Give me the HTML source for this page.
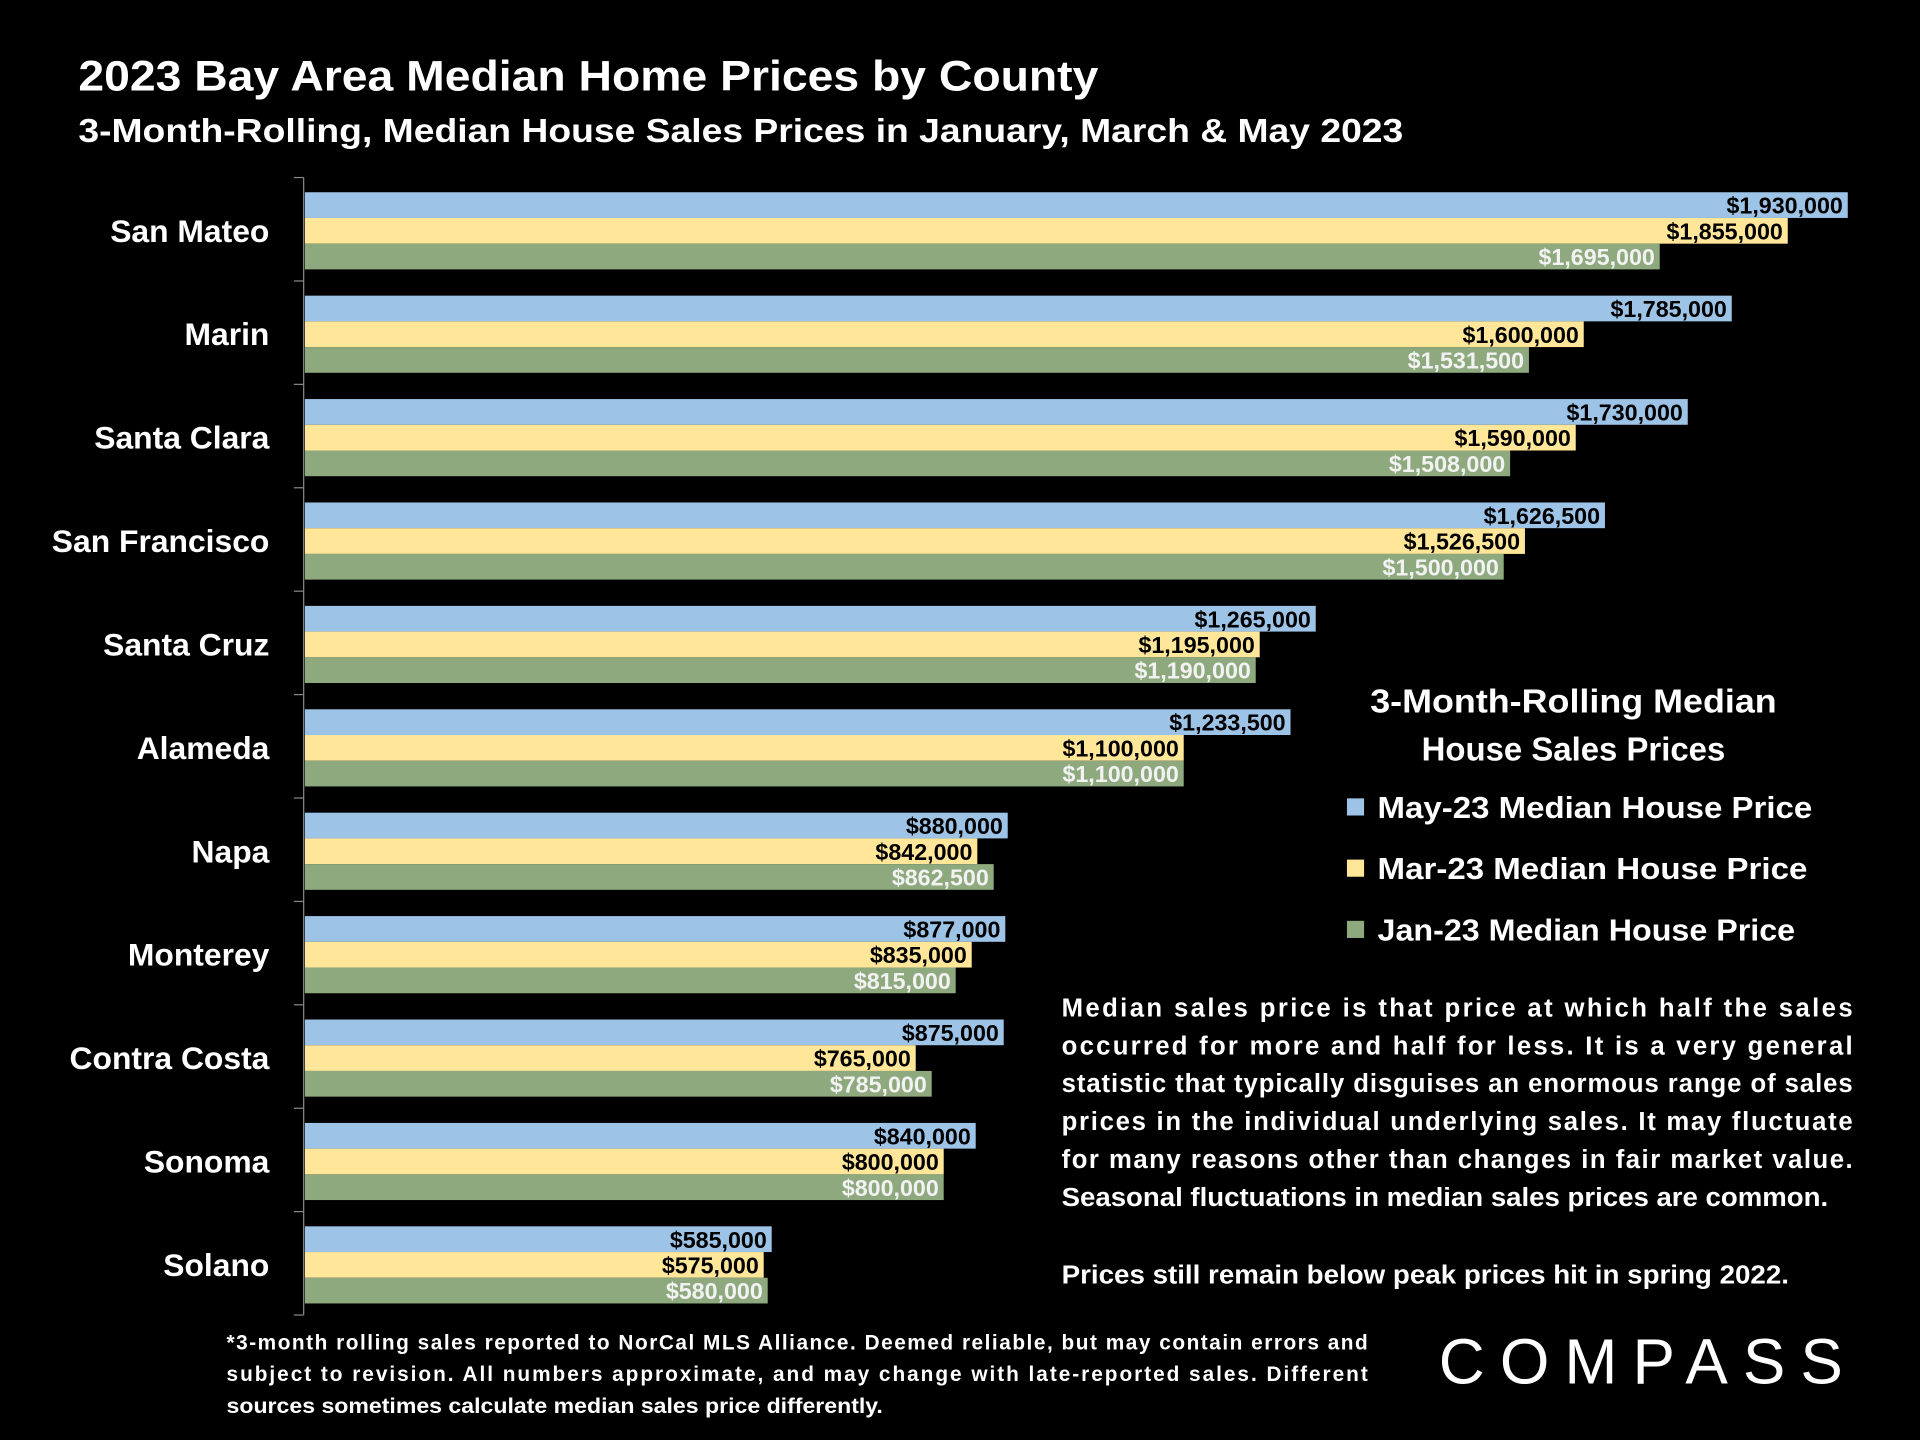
<!DOCTYPE html>
<html><head><meta charset="utf-8"><style>
html,body{margin:0;padding:0;background:#000;}
svg{display:block;}
text{font-family:"Liberation Sans",sans-serif;font-weight:bold;}
</style></head><body>
<svg id="chart" width="1920" height="1440" viewBox="0 0 1568 1176" xmlns="http://www.w3.org/2000/svg">
<rect x="0" y="0" width="1568" height="1176" fill="#000"/>
<text x="64" y="74" font-size="35" fill="#fff" textLength="833" lengthAdjust="spacingAndGlyphs">2023 Bay Area Median Home Prices by County</text>
<text x="64" y="116" font-size="27" fill="#fff" textLength="1082" lengthAdjust="spacingAndGlyphs">3-Month-Rolling, Median House Sales Prices in January, March &amp; May 2023</text>
<g id="plot"></g>
<g>
<text x="1285" y="582" font-size="27" fill="#fff" text-anchor="middle" textLength="332" lengthAdjust="spacingAndGlyphs">3-Month-Rolling Median</text>
<text x="1285" y="621" font-size="27" fill="#fff" text-anchor="middle" textLength="248" lengthAdjust="spacingAndGlyphs">House Sales Prices</text>
<g><rect x="1100" y="652" width="14" height="14" fill="#9DC3E6"/><text x="1125" y="668" font-size="25" fill="#fff" textLength="355" lengthAdjust="spacingAndGlyphs">May-23 Median House Price</text></g>
<g><rect x="1100" y="702" width="14" height="14" fill="#FFE699"/><text x="1125" y="718" font-size="25" fill="#fff" textLength="351" lengthAdjust="spacingAndGlyphs">Mar-23 Median House Price</text></g>
<g><rect x="1100" y="752" width="14" height="14" fill="#8EA97E"/><text x="1125" y="768" font-size="25" fill="#fff" textLength="341" lengthAdjust="spacingAndGlyphs">Jan-23 Median House Price</text></g>
</g>
<g font-size="21" fill="#fff">
<text x="867" y="830" textLength="646" lengthAdjust="spacing">Median sales price is that price at which half the sales</text>
<text x="867" y="861" textLength="646" lengthAdjust="spacing">occurred for more and half for less. It is a very general</text>
<text x="867" y="892" textLength="646" lengthAdjust="spacing">statistic that typically disguises an enormous range of sales</text>
<text x="867" y="923" textLength="646" lengthAdjust="spacing">prices in the individual underlying sales. It may fluctuate</text>
<text x="867" y="954" textLength="646" lengthAdjust="spacing">for many reasons other than changes in fair market value.</text>
<text x="867" y="985" textLength="626" lengthAdjust="spacingAndGlyphs">Seasonal fluctuations in median sales prices are common.</text>
<text x="867" y="1048" textLength="594" lengthAdjust="spacingAndGlyphs">Prices still remain below peak prices hit in spring 2022.</text>
</g>
<g font-size="17" fill="#fff">
<text x="185" y="1102" textLength="932" lengthAdjust="spacing">*3-month rolling sales reported to NorCal MLS Alliance. Deemed reliable, but may contain errors and</text>
<text x="185" y="1128" textLength="932" lengthAdjust="spacing">subject to revision. All numbers approximate, and may change with late-reported sales.  Different</text>
<text x="185" y="1154" textLength="536" lengthAdjust="spacingAndGlyphs">sources sometimes calculate median sales price differently.</text>
</g>
<text x="1175" y="1130" font-size="52" fill="#fff" style="font-weight:normal" textLength="330" lengthAdjust="spacing">COMPASS</text>
</svg>
<script>
const categories = ["San Mateo","Marin","Santa Clara","San Francisco","Santa Cruz","Alameda","Napa","Monterey","Contra Costa","Sonoma","Solano"];
const mayValues = [1930000,1785000,1730000,1626500,1265000,1233500,880000,877000,875000,840000,585000];
const marValues = [1855000,1600000,1590000,1526500,1195000,1100000,842000,835000,765000,800000,575000];
const janValues = [1695000,1531500,1508000,1500000,1190000,1100000,862500,815000,785000,800000,580000];

const NS = "http://www.w3.org/2000/svg";
const plot = document.getElementById("plot");
const X0 = 248, XS = 1261/1930000;
const Y0 = 145, STEP = 84.45, BAR = 21, BAR_OFF = 12;
function xScale(v){ return X0 + v*XS; }
function groupTop(i){ return Y0 + i*STEP; }
function mk(tag, attrs){ const e=document.createElementNS(NS,tag); for(const k in attrs) e.setAttribute(k,attrs[k]); return e; }
function fmt(v){ return "$" + v.toLocaleString("en-US"); }

const axis = mk("line",{x1:X0,y1:Y0,x2:X0,y2:Y0+categories.length*STEP,stroke:"#888","stroke-width":1});


plot.appendChild(axis);
for(let i=0;i<=categories.length;i++){
  const t = mk("line",{x1:X0-8,y1:groupTop(i),x2:X0,y2:groupTop(i),stroke:"#888","stroke-width":1});
  
  
  plot.appendChild(t);
}
const series = [
  {vals:mayValues, color:"#9DC3E6", label:"#000", name:"may"},
  {vals:marValues, color:"#FFE699", label:"#000", name:"mar"},
  {vals:janValues, color:"#8EA97E", label:"#F2F2F2", name:"jan"}
];
categories.forEach((c,i)=>{
  const top = groupTop(i)+BAR_OFF;
  const lab = mk("text",{x:220,y:top+3*BAR/2+9,"font-size":26,fill:"#fff","text-anchor":"end"});
  lab.textContent = c;
  
  
  plot.appendChild(lab);
  series.forEach((s,j)=>{
    const y = top + j*BAR;
    const xe = xScale(s.vals[i]);
    const r = mk("rect",{x:X0+1,y:y,width:xe-X0-1,height:BAR,fill:s.color});
    
    
    plot.appendChild(r);
    const t = mk("text",{x:xe-4,y:y+BAR/2+7,"font-size":19,fill:s.label,"text-anchor":"end"});
    t.textContent = fmt(s.vals[i]);
    
    
    plot.appendChild(t);
  });
});
</script>
</body></html>
